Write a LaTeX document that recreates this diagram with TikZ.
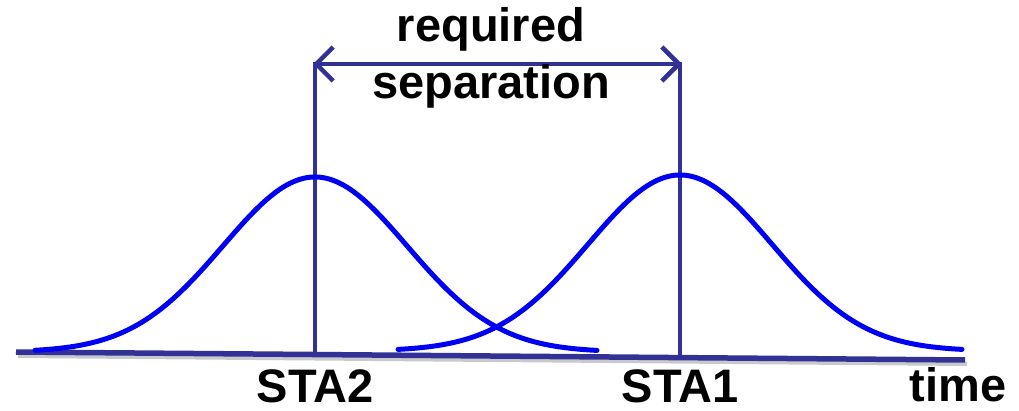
\documentclass[tikz,border=0pt]{standalone}
\usepackage{fontspec}
\setmainfont{Liberation Sans}
\usepackage{tikz}
\usetikzlibrary{positioning, arrows.meta, calc}
\definecolor{sepAxis}{RGB}{50,50,150}
\definecolor{sepCurve}{RGB}{0,0,245}
\definecolor{sepShadow}{RGB}{200,200,205}
\tikzset{
    sepLabel/.style={
        font=\fontsize{47}{57}\selectfont\bfseries,
        text=black,
        align=center,
        inner sep=0pt
    },
    sepAxisLine/.style={line width=5.5pt, draw=sepAxis},
    sepMarker/.style={line width=4.5pt, draw=sepAxis},
    sepArrow/.style={{Straight Barb[length=17pt,width=34pt,line width=4.5pt]}-{Straight Barb[length=17pt,width=34pt,line width=4.5pt]}, line width=4.5pt, draw=sepAxis},
    sepBell/.style={line width=5pt, draw=sepCurve, line cap=round}
}

\begin{document}
\begin{tikzpicture}[x=1pt, y=-1pt]
    \useasboundingbox (0,0) rectangle (1019,411);

    % Axis
    \coordinate (axisL) at (16,352);
    \coordinate (axisR) at (965,360);
    \draw[line width=4pt, sepShadow] ($(axisL)+(2,4)$) -- ($(axisR)+(2,4)$);
    \draw[sepAxisLine] (axisL) -- (axisR);

    % Arrival markers
    \coordinate (sta2top) at (315,62);
    \coordinate (sta2bot) at (315,355);
    \coordinate (sta1top) at (680,62);
    \coordinate (sta1bot) at (680,357);
    \draw[sepMarker] (sta2top) -- (sta2bot);
    \draw[sepMarker] (sta1top) -- (sta1bot);

    % Separation
    \coordinate (sepL) at (313,64);
    \coordinate (sepR) at (682,64);
    \draw[sepArrow] (sepL) -- (sepR);
    \node[sepLabel] (sep) at (491,58) {required\\separation};

    % Distributions
    \draw[sepBell] plot[domain=35:597, samples=90, smooth]
        (\x, {352-175*exp(-0.5*((\x-315)/92)^2)});
    \draw[sepBell] plot[domain=398:962, samples=90, smooth]
        (\x, {351-176*exp(-0.5*((\x-680)/92)^2)});

    % Labels
    \node[sepLabel] (sta2) at (315,386) {STA2};
    \node[sepLabel] (sta1) at (680,386) {STA1};
    \node[sepLabel] (time) at (958,385) {time};
\end{tikzpicture}
\end{document}
